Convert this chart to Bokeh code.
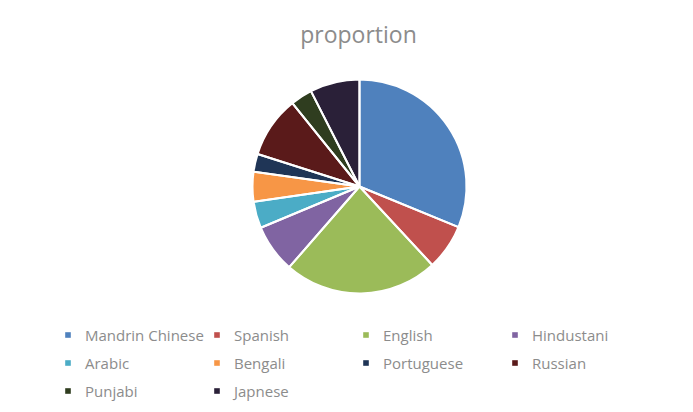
import math
from bokeh.plotting import figure
from bokeh.models import ColumnDataSource, Range1d, Legend, LegendItem, Label
from bokeh.embed import file_html
from bokeh.resources import INLINE

# Data
languages = ["Mandrin Chinese", "Spanish", "English", "Hindustani", "Arabic",
             "Bengali", "Portuguese", "Russian", "Punjabi", "Japnese"]
proportion = [31.2, 6.9, 23.3, 7.3, 4.0, 4.5, 2.7, 9.3, 3.3, 7.5]
colors = ["#4F81BD", "#C0504D", "#9BBB59", "#8064A2", "#4BACC6",
          "#F79646", "#1F3556", "#5A1A1A", "#2F3D1F", "#2A2038"]
title_text = "proportion"

W, H = 693, 412
cx, cy, r = 359, H - 186, 107

total = sum(proportion)
starts, ends = [], []
acc = 0.0
for v in proportion:
    starts.append(math.pi / 2 - 2 * math.pi * acc / total)
    acc += v
    ends.append(math.pi / 2 - 2 * math.pi * acc / total)

src = ColumnDataSource(dict(lang=languages, val=proportion, color=colors,
                            start=starts, end=ends,
                            x=[cx] * len(languages), y=[cy] * len(languages)))

p = figure(width=W, height=H, output_backend="svg", toolbar_location=None,
           x_range=Range1d(0, W), y_range=Range1d(0, H), min_border=0)
p.axis.visible = False
p.xgrid.visible = False
p.ygrid.visible = False
p.outline_line_color = None
p.background_fill_color = "white"
p.border_fill_color = "white"

wr = p.wedge(x="x", y="y", radius=r, start_angle="start", end_angle="end",
             direction="clock", fill_color="color", line_color=None, source=src)
p.wedge(x="x", y="y", radius=r, start_angle="start", end_angle="end",
        direction="clock", fill_color=None, line_color="white", line_width=2,
        source=src)

p.add_layout(Label(x=358, y=H - 33, x_units="screen", y_units="screen",
                   text=title_text, text_align="center", text_baseline="alphabetic",
                   text_font="Open Sans", text_font_size="23px",
                   text_color="#8C8C8C"))

items = [LegendItem(label=lang, renderers=[wr], index=i)
         for i, lang in enumerate(languages)]
legend = Legend(items=items, ncols=4, location=(64, 11),
                orientation="horizontal",
                glyph_width=7, glyph_height=7, label_standoff=14,
                label_width=121, label_height=21, spacing=7,
                padding=0, margin=0,
                label_text_font="Open Sans", label_text_font_size="15px",
                label_text_color="#8C8C8C",
                border_line_color=None, background_fill_alpha=0)
p.add_layout(legend)

open("out.html", "w").write(file_html(p, INLINE))
